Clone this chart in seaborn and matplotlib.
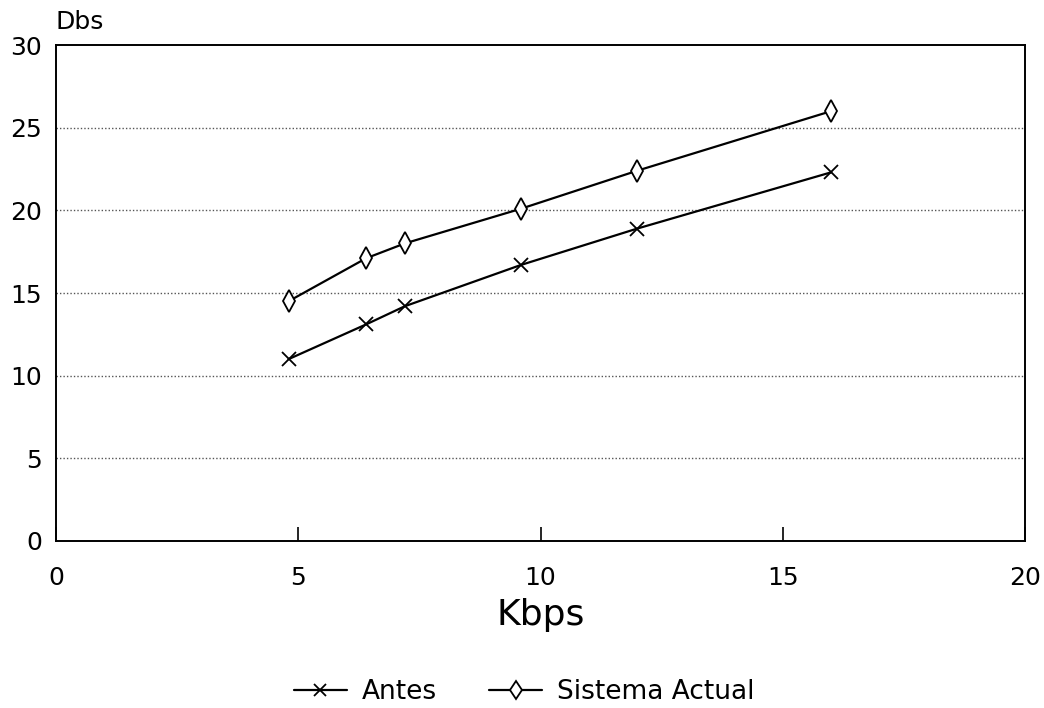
import matplotlib
matplotlib.use("Agg")
import matplotlib.pyplot as plt
import seaborn as sns
import pandas as pd

kbps = [4.8, 6.4, 7.2, 9.6, 12.0, 16.0]
antes = [11.0, 13.1, 14.2, 16.7, 18.9, 22.3]
sistema_actual = [14.5, 17.1, 18.0, 20.1, 22.4, 26.0]
series_names = ["Antes", "Sistema Actual"]
x_ticks = [0, 5, 10, 15, 20]
y_ticks = [0, 5, 10, 15, 20, 25, 30]

sns.set_theme(style="white")
plt.rcParams["font.family"] = ["DejaVu Sans"]
plt.rcParams["text.color"] = "black"

df = pd.DataFrame({
    "Kbps": kbps * 2,
    "Dbs": antes + sistema_actual,
    "serie": [series_names[0]] * len(kbps) + [series_names[1]] * len(kbps),
})

fig = plt.figure(figsize=(10.44, 7.08), dpi=100)
ax = fig.add_axes([56 / 1044, 1 - 541 / 708, (1025 - 56) / 1044, (541 - 45) / 708])

markers = {"Antes": "x", "Sistema Actual": "d"}
sizes = {"Antes": 10, "Sistema Actual": 11}
for name in series_names:
    sub = df[df["serie"] == name]
    sns.lineplot(data=sub, x="Kbps", y="Dbs", ax=ax, color="black", lw=1.6,
                 marker=markers[name], markersize=sizes[name],
                 markerfacecolor="white", markeredgecolor="black",
                 markeredgewidth=1.3, label=name, legend=False)

ax.set_xlim(0, 20)
ax.set_ylim(0, 30)
ax.set_xticks(x_ticks)
ax.set_yticks(y_ticks)
ax.set_xticklabels([str(t) for t in x_ticks])
ax.set_yticklabels([str(t) for t in y_ticks])
ax.tick_params(axis="x", direction="in", length=10, width=1.2, pad=18,
               labelsize=18, colors="black", bottom=True)
ax.tick_params(axis="y", direction="in", length=0, pad=10,
               labelsize=18, colors="black", left=True)
for sp in ax.spines.values():
    sp.set_color("black")
    sp.set_linewidth(1.4)
    sp.set_visible(True)

for y in y_ticks[1:-1]:
    ax.axhline(y, color="#555555", lw=1.0, ls=(0, (1, 1.5)), zorder=0)

ax.set_xlabel("Kbps", fontsize=26, labelpad=6, color="black")
ax.set_ylabel("")
fig.text(55 / 1044, 1 - 22 / 708, "Dbs", fontsize=18, va="center", ha="left", color="black")

handles, labels = ax.get_legend_handles_labels()
leg = fig.legend(handles, labels, loc="center", bbox_to_anchor=(0.502, 1 - 692 / 708),
                 ncol=2, frameon=False, fontsize=19, handlelength=2.0,
                 columnspacing=2.0, handletextpad=0.55, markerscale=0.85,
                 borderpad=0.1)
for t in leg.get_texts():
    t.set_color("black")

fig.savefig("out.png", dpi=100)
